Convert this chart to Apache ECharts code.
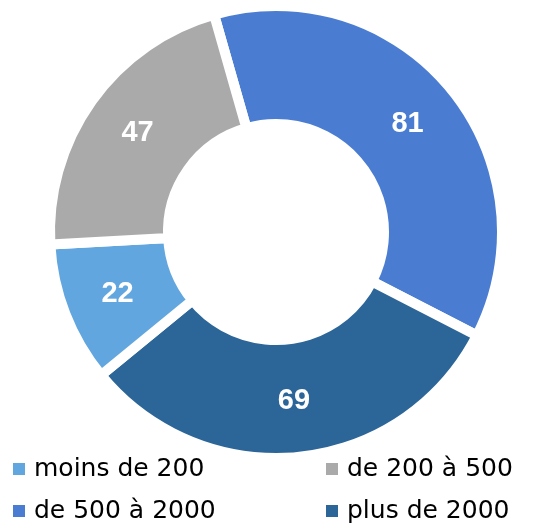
<!DOCTYPE html>
<html>
<head>
<meta charset="utf-8">
<script src="https://cdn.jsdelivr.net/npm/echarts@6/dist/echarts.min.js"></script>
<style>
  html, body { margin: 0; padding: 0; background: #fff; }
  #chart { width: 552px; height: 526px; }
</style>
</head>
<body>
<div id="chart"></div>
<script>
// slices in drawing order (clockwise from top)
const categories = ['de 500 à 2000', 'plus de 2000', 'moins de 200', 'de 200 à 500']
const values = [81, 69, 22, 47]
const colors = ['#4a7dd2', '#2c6598', '#62a6e0', '#aaaaaa']
// legend columns
const legendLeft = ['moins de 200', 'de 500 à 2000']
const legendRight = ['de 200 à 500', 'plus de 2000']

const chart = echarts.init(document.getElementById('chart'))

const legendBase = {
  orient: 'vertical',
  top: 455,
  padding: 0,
  icon: 'rect',
  itemWidth: 14,
  itemHeight: 14,
  itemGap: 14,
  textStyle: {
    fontFamily: 'DejaVu Sans',
    fontSize: 25,
    lineHeight: 28,
    color: '#000',
    padding: [0, 0, 0, 3]
  }
}

chart.setOption({
  animation: false,
  legend: [
    Object.assign({ left: 11, data: legendLeft }, legendBase),
    Object.assign({ left: 324, data: legendRight }, legendBase)
  ],
  series: [{
    type: 'pie',
    center: [276, 232],
    radius: [108, 226],
    startAngle: 105.9,
    clockwise: true,
    data: categories.map(function (name, i) {
      return { name: name, value: values[i], itemStyle: { color: colors[i] } }
    }),
    itemStyle: {
      borderColor: '#fff',
      borderWidth: 10
    },
    label: {
      position: 'inside',
      formatter: '{c}',
      color: '#fff',
      fontFamily: 'Liberation Sans',
      fontWeight: 'bold',
      fontSize: 29
    },
    labelLine: { show: false },
    emphasis: { disabled: true }
  }]
})
</script>
</body>
</html>
